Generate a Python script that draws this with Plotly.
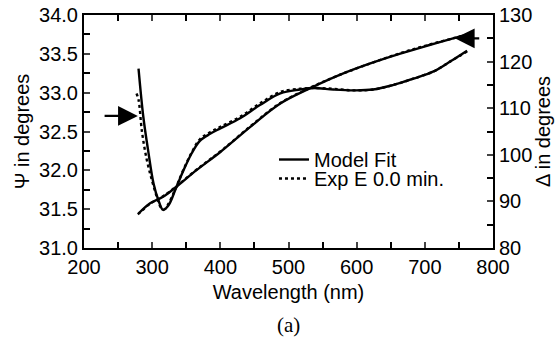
import plotly.graph_objects as go

# ---- data ----
psi_model_wl = [280, 287, 294, 302, 309, 316, 324, 334, 346, 358, 370, 385, 400, 429, 458, 488, 517, 536, 566, 595, 624, 654, 683, 712, 737, 762]
psi_model = [33.31, 32.69, 32.26, 31.83, 31.62, 31.49, 31.55, 31.75, 32.00, 32.22, 32.38, 32.47, 32.54, 32.67, 32.84, 32.99, 33.04, 33.06, 33.04, 33.03, 33.04, 33.10, 33.18, 33.27, 33.40, 33.54]

psi_exp_wl = [277, 280, 285, 292, 300, 309, 313, 318, 324, 334, 346, 358, 370, 385, 400, 429, 458, 488, 517, 536, 566, 595, 624, 654, 683, 712, 737, 762]
psi_exp = [32.99, 32.91, 32.50, 32.14, 31.86, 31.60, 31.52, 31.50, 31.57, 31.76, 32.01, 32.23, 32.40, 32.49, 32.56, 32.69, 32.86, 33.01, 33.05, 33.06, 33.05, 33.03, 33.04, 33.10, 33.18, 33.27, 33.40, 33.53]

delta_model_wl = [280, 297, 316, 336, 365, 400, 444, 488, 532, 576, 620, 664, 703, 744, 762]
delta_model = [87.4, 89.6, 91.0, 93.2, 96.7, 100.6, 106.0, 111.0, 114.3, 117.2, 119.6, 121.7, 123.4, 125.1, 125.8]

delta_exp_wl = [279, 297, 316, 336, 365, 400, 444, 488, 532, 576, 620, 664, 703, 744, 762]
delta_exp = [87.2, 89.5, 91.1, 93.3, 96.8, 100.7, 106.1, 111.1, 114.4, 117.2, 119.6, 121.8, 123.5, 125.1, 125.8]

x_ticks = [200, 300, 400, 500, 600, 700, 800]
psi_ticks = [31.0, 31.5, 32.0, 32.5, 33.0, 33.5, 34.0]
delta_ticks = [80, 90, 100, 110, 120, 130]

FONT = "Liberation Sans, Arial, Helvetica, sans-serif"
LW = 2.4
FS = 20

fig = go.Figure()

fig.add_trace(go.Scatter(x=psi_exp_wl, y=psi_exp, mode="lines", line=dict(color="black", width=LW, dash="dot", shape="spline"),
                         name="Exp E 0.0 min.", legend="legend2", showlegend=True, yaxis="y"))
fig.add_trace(go.Scatter(x=delta_exp_wl, y=delta_exp, mode="lines", line=dict(color="black", width=LW, dash="dot", shape="spline"),
                         name="Exp E 0.0 min.", showlegend=False, yaxis="y2"))
fig.add_trace(go.Scatter(x=psi_model_wl, y=psi_model, mode="lines", line=dict(color="black", width=LW, shape="spline"),
                         name="Model Fit", legend="legend", showlegend=True, yaxis="y"))
fig.add_trace(go.Scatter(x=delta_model_wl, y=delta_model, mode="lines", line=dict(color="black", width=LW, shape="spline"),
                         name="Model Fit", showlegend=False, yaxis="y2"))

legend_common = dict(xanchor="left", yanchor="top", bgcolor="rgba(0,0,0,0)", font=dict(size=FS), itemwidth=30)

fig.update_layout(
    width=558, height=343,
    margin=dict(l=84, r=65, t=15, b=95),
    paper_bgcolor="white", plot_bgcolor="white",
    font=dict(family=FONT, size=FS, color="black"),
    showlegend=True,
    legend=dict(x=0.4645, y=0.4635, **legend_common),
    legend2=dict(x=0.4645, y=0.382, **legend_common),
    xaxis=dict(range=[200, 800], tickvals=x_ticks, ticks="inside", ticklen=6, tickwidth=1.5, automargin=False,
               ticklabeloverflow="allow",
               minor=dict(dtick=50, ticks="inside", ticklen=6, tickwidth=1.5, tickcolor="black"),
               showline=True, linewidth=2, linecolor="black", mirror="ticks", showgrid=False, zeroline=False,
               tickfont=dict(size=FS), title=dict(text="Wavelength (nm)", font=dict(size=FS), standoff=8)),
    yaxis=dict(range=[31, 34], tickvals=psi_ticks, tickformat=".1f", ticks="inside", ticklen=6, tickwidth=1.5, automargin=False,
               ticklabeloverflow="allow",
               minor=dict(dtick=0.25, ticks="inside", ticklen=6, tickwidth=1.5, tickcolor="black"),
               showline=True, linewidth=2, linecolor="black", showgrid=False, zeroline=False,
               tickfont=dict(size=FS), title=dict(text="Ψ in degrees", font=dict(size=FS), standoff=4)),
    yaxis2=dict(range=[80, 130], tickvals=delta_ticks, overlaying="y", side="right", ticks="inside", ticklen=6, tickwidth=1.5,
                automargin=False, ticklabeloverflow="allow",
                minor=dict(dtick=5, ticks="inside", ticklen=6, tickwidth=1.5, tickcolor="black"),
                showline=True, linewidth=2, linecolor="black", showgrid=False, zeroline=False,
                tickfont=dict(size=FS), title=dict(text="Δ in degrees", font=dict(size=FS), standoff=4)),
)

# arrows marking which axis each curve belongs to
fig.add_annotation(x=279, y=32.70, xref="x", yref="y", ax=228, ay=32.70, axref="x", ayref="y",
                   text="", showarrow=True, arrowhead=2, arrowsize=1.8, arrowwidth=2.2, arrowcolor="black")
fig.add_annotation(x=744, y=125.0, xref="x", yref="y2", ax=782, ay=125.0, axref="x", ayref="y2",
                   text="", showarrow=True, arrowhead=2, arrowsize=1.8, arrowwidth=2.2, arrowcolor="black")

fig.add_annotation(x=0.5, y=-0.330, xref="paper", yref="paper", text="(a)", showarrow=False,
                   font=dict(family="Liberation Serif, Times New Roman, serif", size=21), yanchor="middle")

# remove the browser's default 8px body margin so the figure sits at the page origin
fig.write_html("out.html", config={"displayModeBar": False},
               post_script="document.body.style.margin='0';")
